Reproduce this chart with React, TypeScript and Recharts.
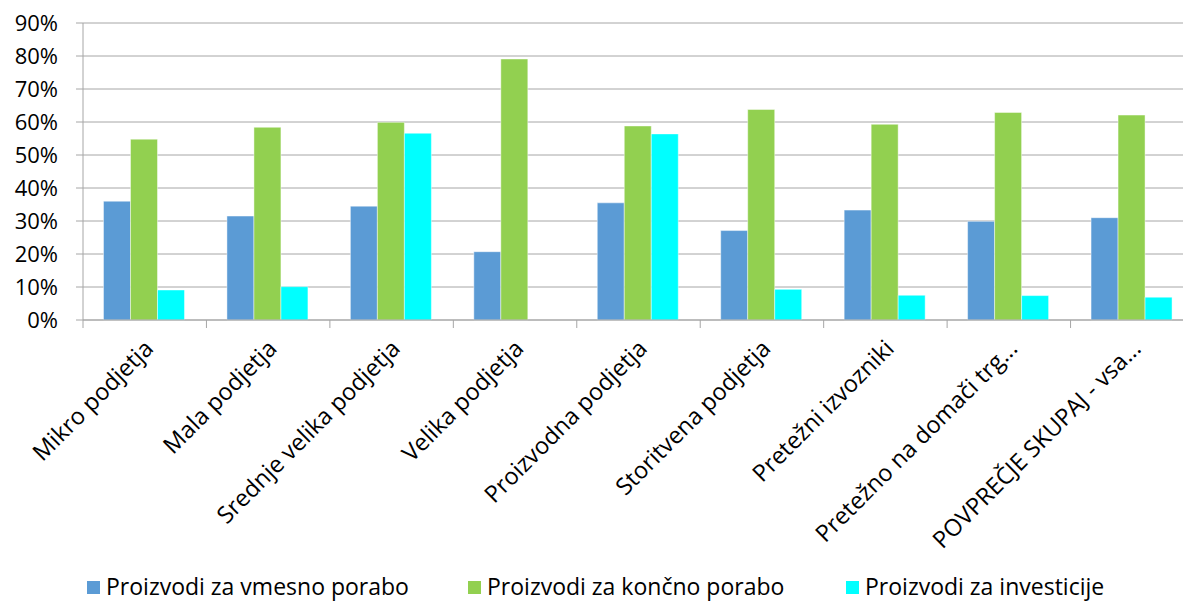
import React from "react";
import { BarChart, Bar, XAxis, YAxis, CartesianGrid, Legend } from "recharts";

const categories = [
  "Mikro podjetja",
  "Mala podjetja",
  "Srednje velika podjetja",
  "Velika podjetja",
  "Proizvodna podjetja",
  "Storitvena podjetja",
  "Pretežni izvozniki",
  "Pretežno na domači trg...",
  "POVPREČJE SKUPAJ - vsa...",
];

const seriesNames = [
  "Proizvodi za vmesno porabo",
  "Proizvodi za končno porabo",
  "Proizvodi za investicije",
];

const vmesnaPoraba = [36.0, 31.5, 34.5, 20.7, 35.5, 27.1, 33.3, 29.9, 31.0];
const koncnaPoraba = [54.8, 58.4, 59.9, 79.1, 58.8, 63.8, 59.3, 62.9, 62.1];
const investicije = [9.1, 10.1, 56.6, 0, 56.4, 9.3, 7.5, 7.4, 6.9];

const yTicks = [0, 10, 20, 30, 40, 50, 60, 70, 80, 90];

const data = categories.map((name, i) => ({
  name,
  vmesno: vmesnaPoraba[i],
  koncno: koncnaPoraba[i],
  investicije: investicije[i],
}));

const FONT = "'Open Sans', sans-serif";
const GRID = "#A6A6A6";
const BLUE = "#5B9BD5";
const GREEN = "#92D050";
const CYAN = "#00FFFF";

const CHART_W = 1194;
const CHART_H = 602;
const AXIS_W = 83;
const LEGEND_H = 44;
const BAND = (CHART_W - AXIS_W) / categories.length;

// category label rotated -45deg, plus the tick mark on the left boundary of the band
function CategoryTick({ x, y, payload }: any) {
  const tx = x + 10;
  const ty = y + 30;
  return (
    <g>
      <line x1={x - BAND / 2} y1={y} x2={x - BAND / 2} y2={y + 8} stroke={GRID} />
      <text
        x={tx}
        y={ty}
        transform={`rotate(-45, ${tx}, ${ty})`}
        textAnchor="end"
        fontFamily={FONT}
        fontSize={23.5}
        fill="#000"
      >
        {payload.value}
      </text>
    </g>
  );
}

function LegendContent({ payload }: any) {
  const items = [...(payload || [])].sort(
    (a: any, b: any) => seriesNames.indexOf(a.value) - seriesNames.indexOf(b.value)
  );
  return (
    <div
      style={{
        display: "flex",
        boxSizing: "border-box",
        height: LEGEND_H,
        paddingTop: 12,
        paddingLeft: 87,
        alignItems: "center",
        fontFamily: FONT,
        fontSize: 23,
        lineHeight: 1,
        color: "#000",
      }}
    >
      {items.map((p: any, i: number) => (
        <div
          key={p.value}
          style={{ width: i === 0 ? 381 : 378, flexShrink: 0, display: "flex", alignItems: "center" }}
        >
          <span style={{ width: 13, height: 13, background: p.color, marginRight: 6, marginTop: 2 }} />
          <span style={{ whiteSpace: "nowrap" }}>{p.value}</span>
        </div>
      ))}
    </div>
  );
}

export default function App() {
  return (
    <div
      style={{
        position: "absolute",
        left: 0,
        top: 0,
        width: 1183,
        height: 602,
        overflow: "hidden",
        background: "#fff",
      }}
    >
      <BarChart
        width={CHART_W}
        height={CHART_H}
        data={data}
        margin={{ top: 23, right: 0, bottom: 0, left: 0 }}
        barCategoryGap="16.6%"
        barGap={0}
      >
        <CartesianGrid vertical={false} stroke={GRID} />
        <XAxis
          dataKey="name"
          interval={0}
          height={CHART_H - 23 - 297 - LEGEND_H}
          tickLine={false}
          tickSize={0}
          tickMargin={0}
          axisLine={{ stroke: GRID }}
          tick={<CategoryTick />}
        />
        <YAxis
          width={AXIS_W}
          domain={[0, 90]}
          ticks={yTicks}
          tickFormatter={(v) => `${v}%`}
          tickSize={7}
          tickMargin={18}
          axisLine={{ stroke: GRID }}
          tickLine={{ stroke: GRID }}
          tick={{ fontFamily: FONT, fontSize: 22, fill: "#000" }}
        />
        <Legend
          verticalAlign="bottom"
          content={<LegendContent />}
          wrapperStyle={{ left: 0, width: 1183 }}
        />
        <Bar dataKey="vmesno" name={seriesNames[0]} fill={BLUE} stroke="#fff" strokeOpacity={0.45} isAnimationActive={false} />
        <Bar dataKey="koncno" name={seriesNames[1]} fill={GREEN} stroke="#fff" strokeOpacity={0.45} isAnimationActive={false} />
        <Bar dataKey="investicije" name={seriesNames[2]} fill={CYAN} stroke="#fff" strokeOpacity={0.45} isAnimationActive={false} />
      </BarChart>
    </div>
  );
}
